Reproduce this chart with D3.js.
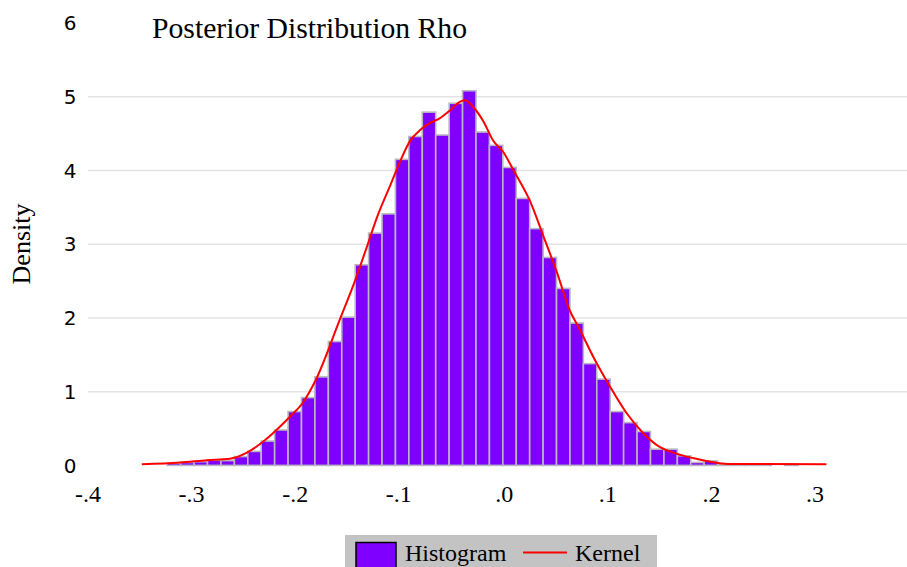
<!DOCTYPE html>
<html>
<head>
<meta charset="utf-8">
<script src="https://cdn.jsdelivr.net/npm/d3@7/dist/d3.min.js"></script>
<style>
  body { margin: 0; background: #fff; }
  svg { display: block; }
</style>
</head>
<body>
<div id="chart"></div>
<script>
var binStart = -0.3254;
var binWidth = 0.01296;
var density = [0.03, 0.04, 0.05, 0.07, 0.065, 0.12, 0.19, 0.33, 0.48, 0.73,
  0.92, 1.20, 1.68, 2.01, 2.72, 3.15, 3.41, 4.15, 4.46, 4.79,
  4.48, 4.91, 5.08, 4.52, 4.34, 4.04, 3.62, 3.21, 2.82, 2.40,
  1.93, 1.38, 1.17, 0.73, 0.58, 0.46, 0.22, 0.22, 0.13, 0.04,
  0.06, 0.02, 0.02, 0.02, 0.02, 0, 0.02];
var kernelX = [-0.350, -0.313, -0.287, -0.265, -0.249, -0.233, -0.220, -0.207, -0.194, -0.183,
  -0.159, -0.144, -0.133, -0.123, -0.110, -0.100, -0.091, -0.081, -0.072, -0.062,
  -0.052, -0.043, -0.038, -0.030, -0.020, -0.011, -0.001, 0.009, 0.025, 0.038,
  0.051, 0.063, 0.073, 0.086, 0.102, 0.118, 0.134, 0.150, 0.166, 0.182,
  0.199, 0.215, 0.311];
var kernelY = [0.015, 0.04, 0.07, 0.09, 0.17, 0.32, 0.48, 0.66, 0.86, 1.13,
  1.97, 2.51, 2.95, 3.36, 3.80, 4.14, 4.40, 4.55, 4.64, 4.71,
  4.82, 4.93, 4.95, 4.86, 4.66, 4.41, 4.25, 4.00, 3.58, 3.10,
  2.61, 2.11, 1.84, 1.47, 1.07, 0.71, 0.44, 0.25, 0.16, 0.10,
  0.05, 0.02, 0.015];
var xTicks = [-0.4, -0.3, -0.2, -0.1, 0, 0.1, 0.2, 0.3];
var xTickLabels = ['-.4', '-.3', '-.2', '-.1', '.0', '.1', '.2', '.3'];
var yTicks = [0, 1, 2, 3, 4, 5, 6];
var gridTicks = [1, 2, 3, 4, 5];
var legendNames = ['Histogram', 'Kernel'];

var width = 907, height = 567;
var serif = '"Liberation Serif", "Times New Roman", serif';
var sans = '"DejaVu Sans", Verdana, sans-serif';

var x = d3.scaleLinear().domain([-0.4, 0.3]).range([90, 815]);
var y = d3.scaleLinear().domain([0, 6]).range([465.4, 22.9]);

var svg = d3.select('#chart').append('svg').attr('width', width).attr('height', height);

svg.append('g').selectAll('line').data(gridTicks).enter().append('line')
  .attr('x1', 88).attr('x2', width)
  .attr('y1', function(d) { return y(d); }).attr('y2', function(d) { return y(d); })
  .style('stroke', '#e3e3e3').style('stroke-width', 1.5);

var bins = density.map(function(d, i) {
  return { x0: binStart + i * binWidth, x1: binStart + (i + 1) * binWidth, v: d };
});

svg.append('g').selectAll('rect').data(bins).enter().append('rect')
  .attr('x', function(d) { return x(d.x0); })
  .attr('width', function(d) { return x(d.x1) - x(d.x0); })
  .attr('y', function(d) { return y(d.v); })
  .attr('height', function(d) { return y(0) - y(d.v); })
  .style('fill', '#7f00ff').style('stroke', '#b8b8c0').style('stroke-width', 1.6);

var kernel = kernelX.map(function(d, i) { return [d, kernelY[i]]; });
var line = d3.line().x(function(d) { return x(d[0]); }).y(function(d) { return y(d[1]); })
  .curve(d3.curveMonotoneX);
svg.append('path').datum(kernel).attr('d', line)
  .style('fill', 'none').style('stroke', '#ff0000').style('stroke-width', 2);

svg.append('g').selectAll('text').data(yTicks).enter().append('text')
  .attr('x', 70).attr('y', function(d) { return y(d); }).attr('dy', '0.36em')
  .style('text-anchor', 'middle').style('font-family', sans).style('font-size', '20px')
  .style('fill', '#000').text(function(d) { return d; });

svg.append('g').selectAll('text').data(xTicks).enter().append('text')
  .attr('x', function(d) { return x(d) - (d < 0 ? 2 : 0); }).attr('y', 502)
  .style('text-anchor', 'middle').style('font-family', serif).style('font-size', '24px')
  .style('fill', '#000').text(function(d, i) { return xTickLabels[i]; });

svg.append('text').attr('x', 152).attr('y', 38)
  .style('font-family', serif).style('font-size', '29.7px').style('fill', '#000')
  .text('Posterior Distribution Rho');

svg.append('text').attr('transform', 'translate(30,244) rotate(-90)')
  .style('text-anchor', 'middle').style('font-family', serif).style('font-size', '26px')
  .style('fill', '#000').text('Density');

var legend = svg.append('g');
legend.append('rect').attr('x', 345).attr('y', 535).attr('width', 312).attr('height', 40)
  .style('fill', '#c3c3c3');
legend.append('rect').attr('x', 356).attr('y', 542.5).attr('width', 40).attr('height', 36)
  .style('fill', '#7f00ff').style('stroke', '#000').style('stroke-width', 1.5);
legend.append('line').attr('x1', 523).attr('x2', 567).attr('y1', 552.5).attr('y2', 552.5)
  .style('stroke', '#ff0000').style('stroke-width', 2);
legend.selectAll('text').data(legendNames).enter().append('text')
  .attr('x', function(d, i) { return i === 0 ? 405 : 575; }).attr('y', 561)
  .style('font-family', serif).style('font-size', '24px').style('fill', '#000')
  .text(function(d) { return d; });
</script>
</body>
</html>
